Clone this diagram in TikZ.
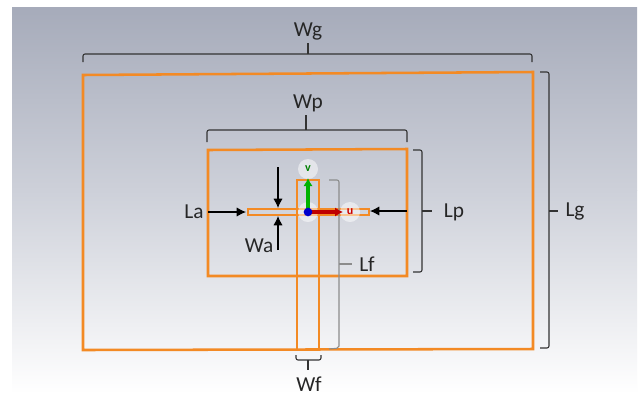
\documentclass[tikz,border=0pt]{standalone}
\usepackage{fontspec}
\setmainfont{Carlito}
\usetikzlibrary{arrows.meta}
\definecolor{gtop}{RGB}{166,171,186}
\definecolor{gmid}{RGB}{205,208,217}
\definecolor{orng}{RGB}{243,138,36}
\tikzset{
  x=0.75pt,y=-0.75pt,
  lbl/.style={font=\fontsize{16}{16}\selectfont,text=black!85,inner sep=0pt},
  outline/.style={draw=orng,line width=1.9pt,line join=miter},
  brk/.style={draw=black!80,line width=0.8pt,rounded corners=1.5pt},
  stem/.style={draw=black!80,line width=0.8pt},
  pointer/.style={draw=black,line width=0.8pt,-{Latex[length=7pt,width=7pt]}},
  dot/.style={circle,fill=white,fill opacity=0.5,minimum size=15pt,inner sep=0pt},
  axl/.style={font=\bfseries\fontsize{9}{9}\selectfont,inner sep=0pt}
}
\begin{document}
\begin{tikzpicture}
\useasboundingbox (0,0) rectangle (642,394);
\fill[white] (0,0) rectangle (642,394);
\shade[top color=gtop,bottom color=gmid] (12,7) rectangle (637,190);
\shade[top color=gmid,bottom color=white] (12,190) rectangle (637,394);
% orange outlines
\draw[outline] (83,75) -- (533,72) -- (533,349) -- (83,350) -- cycle;
\draw[outline] (208,150) -- (407,149) -- (407,276) -- (208,276) -- cycle;
\draw[outline] (297,350) -- (297,180) -- (319,180) -- (319,350);
\draw[outline,line width=1.6pt] (248,209) rectangle (369,215);
% labels
\node[lbl] (wg) at (308,31) {Wg};
\node[lbl] (wp) at (308,103) {Wp};
\node[lbl] (la) at (194,212) {La};
\node[lbl] (wa) at (259,246) {Wa};
\node[lbl] (lf) at (367,264) {Lf};
\node[lbl] (lp) at (454,212) {Lp};
\node[lbl] (lg) at (575,211) {Lg};
\node[lbl] (wf) at (309,384) {Wf};
% brackets
\coordinate (wgs) at (308,54);
\coordinate (wps) at (306,130);
\coordinate (lps) at (422,211);
\coordinate (lgs) at (549,211);
\coordinate (lfs) at (339,264);
\coordinate (wfs) at (308,360);
\draw[brk] (83,62) -- (83,54) -- (532,54) -- (532,62);
\draw[stem] (wgs) -- (308,43);
\draw[brk] (207,142) -- (207,130) -- (407,130) -- (407,142);
\draw[stem] (wps) -- (306,115);
\draw[brk] (413,150) -- (422,150) -- (422,272) -- (413,272);
\draw[stem] (lps) -- (432,211);
\draw[brk] (540,72) -- (549,72) -- (549,348) -- (540,348);
\draw[stem] (lgs) -- (558,211);
\draw[brk,draw=black!45] (329,180) -- (339,180) -- (339,348) -- (329,349);
\draw[stem,draw=black!45] (lfs) -- (352,264);
\draw[brk] (296,355) -- (296,360) -- (321,360) -- (321,355);
\draw[stem] (wfs) -- (308,370);
% pointers
\coordinate (la0) at (208,212);
\coordinate (la1) at (246,212);
\coordinate (r0) at (407,211);
\coordinate (r1) at (370,211);
\coordinate (wa0) at (278,167);
\coordinate (wa1) at (278,208);
\coordinate (wa2) at (278,250);
\coordinate (wa3) at (278,216);
\draw[pointer] (la0) -- (la1);
\draw[pointer] (r0) -- (r1);
\draw[pointer] (wa0) -- (wa1);
\draw[pointer] (wa2) -- (wa3);
% axes
\node[dot] (v) at (308,169) {};
\node[dot] (w) at (308,212) {};
\node[dot] (u) at (350,212) {};
\draw[draw=green!70!black,line width=2.6pt,-{Latex[length=6pt,width=7pt]}] (308,210) -- (308,178);
\draw[draw=red!75!black,line width=2.6pt,-{Latex[length=6pt,width=7pt]}] (310,212) -- (343,212);
\node[circle,fill=blue!80!black,minimum size=6.5pt,inner sep=0pt] at (w) {};
\node[axl,text=green!50!black] at (v) {v};
\node[axl,text=red!80!black] at (u) {u};
\end{tikzpicture}
\end{document}
